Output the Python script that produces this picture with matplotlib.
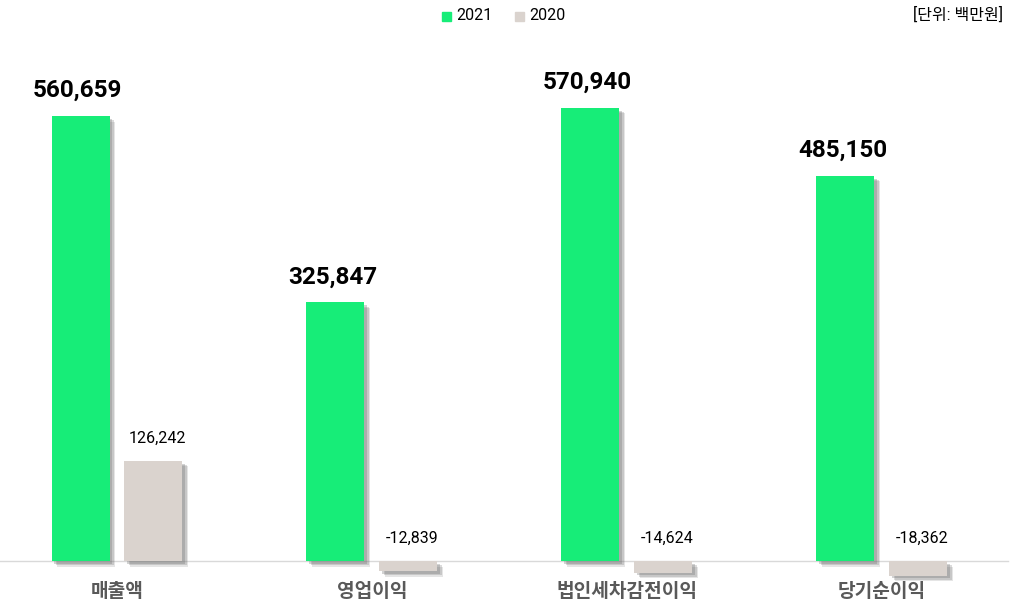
import matplotlib.pyplot as plt
import matplotlib.patheffects as pe
import numpy as np

plt.rcParams['font.family'] = ['Roboto', 'Noto Sans CJK KR', 'DejaVu Sans']

categories = ["매출액", "영업이익", "법인세차감전이익", "당기순이익"]
values_2021 = [560659, 325847, 570940, 485150]
values_2020 = [126242, -12839, -14624, -18362]

GREEN = "#17ED78"
BEIGE = "#DAD3CE"

# pixel layout of the reference: 255px per category, baseline at y=561
k = 445 / 560659  # px per unit
fig = plt.figure(figsize=(10.19, 6.14), dpi=100)
ax = fig.add_axes([0, 0, 1, 1])
ax.set_xlim(-117 / 255, (1019 - 117) / 255)
ax.set_ylim(-(614 - 561) / k, 561 / k)
ax.axis("off")

x = np.arange(len(categories))
w = 58 / 255
off = 36.5 / 255

# soft-ish drop shadow
shadow = [pe.SimplePatchShadow(offset=(4, -4), shadow_rgbFace="#707070", alpha=0.18),
          pe.SimplePatchShadow(offset=(3, -3), shadow_rgbFace="#707070", alpha=0.25),
          pe.SimplePatchShadow(offset=(2, -2), shadow_rgbFace="#707070", alpha=0.3),
          pe.Normal()]

b1 = ax.bar(x - off, values_2021, width=w, color=GREEN, zorder=3)
b2 = ax.bar(x + off, values_2020, width=w, color=BEIGE, zorder=3)
for p in list(b1) + list(b2):
    p.set_path_effects(shadow)

# baseline
ax.plot([-117 / 255, (1008 - 117) / 255], [0, 0], color="#D9D9D9", lw=1, zorder=2)

for xi, v in zip(x - off, values_2021):
    ax.annotate(f"{v:,}", (xi, v), xytext=(-3, 14), textcoords="offset pixels",
                ha="center", va="bottom", fontsize=17.5, fontweight="bold", color="black")

for xi, v in zip(x + off, values_2020):
    ax.annotate(f"{v:,}", (xi, max(v, 0)), xytext=(4, 15), textcoords="offset pixels",
                ha="center", va="bottom", fontsize=11.5, color="black")

for xi, name in zip(x, categories):
    ax.text(xi, -31 / k, name, ha="center", va="center", fontsize=13.8,
            fontweight="bold", color="#595959")

# legend
fig.patches.append(plt.Rectangle((442 / 1019, 1 - 20.5 / 614), 9 / 1019, 8 / 614,
                                 transform=fig.transFigure, color=GREEN))
fig.text(456 / 1019, 1 - 15 / 614, "2021", ha="left", va="center", fontsize=11.5)
fig.patches.append(plt.Rectangle((515 / 1019, 1 - 20.5 / 614), 9 / 1019, 8 / 614,
                                 transform=fig.transFigure, color=BEIGE))
fig.text(529 / 1019, 1 - 15 / 614, "2020", ha="left", va="center", fontsize=11.5)

fig.text(1003 / 1019, 1 - 15 / 614, "[단위: 백만원]", ha="right", va="center", fontsize=11.5)

fig.savefig("out.png", dpi=100)
